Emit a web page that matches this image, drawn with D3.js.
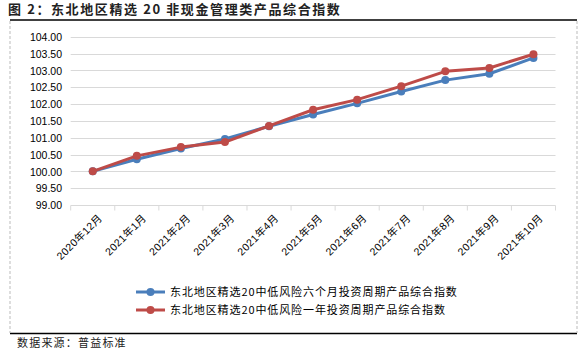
<!DOCTYPE html>
<html>
<head>
  <meta charset="utf8">
  <script src="https://d3js.org/d3.v7.min.js"></script>
  <style>
    body { margin: 0; background: #fff; }
    text { font-family: "Noto Sans CJK SC", "Liberation Sans", sans-serif; fill: #000; }
    .title { font-size: 13px; font-weight: bold; fill: #222; letter-spacing: 1.6px; }
    .axis text { font-size: 10.5px; font-family: "Liberation Sans", "Noto Sans CJK SC", sans-serif; }
    .xlab { letter-spacing: 0.4px; }
    .legend text { font-size: 11px; letter-spacing: 0.9px; }
    .source { font-size: 11px; fill: #222; letter-spacing: 1.2px; }
  </style>
</head>
<body>
  <svg id="chart" width="588" height="352"></svg>
  <script>
    var months = ["2020年12月", "2021年1月", "2021年2月", "2021年3月", "2021年4月", "2021年5月",
      "2021年6月", "2021年7月", "2021年8月", "2021年9月", "2021年10月"];
    var sixMonth = [100.00, 100.36, 100.68, 100.96, 101.34, 101.69, 102.02, 102.37, 102.71, 102.90, 103.37];
    var oneYear = [100.00, 100.46, 100.72, 100.87, 101.35, 101.83, 102.13, 102.53, 102.97, 103.07, 103.48];
    var seriesNames = ["东北地区精选20中低风险六个月投资周期产品综合指数", "东北地区精选20中低风险一年投资周期产品综合指数"];
    var seriesColors = ["#4A7EBB", "#BE4B48"];
    var yTicks = [99, 99.5, 100, 100.5, 101, 101.5, 102, 102.5, 103, 103.5, 104];

    var svg = d3.select('#chart');
    var series = [sixMonth, oneYear];

    // frame
    svg.append('line').attr('x1', 10).attr('x2', 577).attr('y1', 20).attr('y2', 20)
      .attr('stroke', '#000').attr('stroke-width', 1.5);
    svg.append('line').attr('x1', 10).attr('x2', 577).attr('y1', 333.5).attr('y2', 333.5)
      .attr('stroke', '#000').attr('stroke-width', 1.5);
    [10, 577].forEach(function (x) {
      svg.append('line').attr('x1', x).attr('x2', x).attr('y1', 21).attr('y2', 333)
        .attr('stroke', '#bbb').attr('stroke-dasharray', '3,2');
    });

    svg.append('text').attr('class', 'title').attr('x', 8).attr('y', 14)
      .text('图 2：东北地区精选 20 非现金管理类产品综合指数');
    svg.append('text').attr('class', 'source').attr('x', 17).attr('y', 347)
      .text('数据来源：普益标准');

    var x = d3.scaleBand().domain(months).range([70.7, 555.5]);
    var y = d3.scaleLinear().domain([99, 104]).range([205, 36.7]);

    // gridlines
    svg.append('g').selectAll('line').data(yTicks.slice(1)).enter().append('line')
      .attr('x1', x.range()[0]).attr('x2', x.range()[1])
      .attr('y1', function (d) { return Math.round(y(d)) + 0.5; })
      .attr('y2', function (d) { return Math.round(y(d)) + 0.5; })
      .attr('stroke', '#d9d9d9').attr('stroke-width', 1);

    var yAxis = svg.append('g').attr('class', 'axis')
      .attr('transform', 'translate(' + 62 + ',0)')
      .call(d3.axisLeft(y).tickValues(yTicks).tickFormat(d3.format('.2f')).tickSize(0).tickPadding(0));
    yAxis.select('.domain').remove();
    yAxis.selectAll('text').attr('dy', '0.36em');

    var xAxis = svg.append('g').attr('class', 'axis')
      .attr('transform', 'translate(0,' + (Math.round(y(99)) + 0.5) + ')');
    xAxis.append('line').attr('x1', x.range()[0]).attr('x2', x.range()[1])
      .attr('stroke', '#d9d9d9');
    xAxis.selectAll('.tick').data(months.concat(['end'])).enter().append('line')
      .attr('x1', function (d, i) { return x.range()[0] + i * x.bandwidth(); })
      .attr('x2', function (d, i) { return x.range()[0] + i * x.bandwidth(); })
      .attr('y1', 0).attr('y2', 5).attr('stroke', '#d9d9d9');
    xAxis.selectAll('.lbl').data(months).enter().append('text')
      .attr('class', 'xlab')
      .attr('text-anchor', 'end')
      .attr('transform', function (d) {
        return 'translate(' + (x(d) + x.bandwidth() / 2 + 5) + ',8) rotate(-45)';
      })
      .attr('dy', '0.7em')
      .text(function (d) { return d; });

    var line = d3.line()
      .x(function (d, i) { return x(months[i]) + x.bandwidth() / 2; })
      .y(function (d) { return y(d); });

    series.forEach(function (s, k) {
      svg.append('path').datum(s)
        .attr('fill', 'none').attr('stroke', seriesColors[k]).attr('stroke-width', 3)
        .attr('stroke-linejoin', 'round').attr('d', line);
      svg.append('g').selectAll('circle').data(s).enter().append('circle')
        .attr('cx', function (d, i) { return x(months[i]) + x.bandwidth() / 2; })
        .attr('cy', function (d) { return y(d); })
        .attr('r', 4).attr('fill', seriesColors[k]);
    });

    var legend = svg.append('g').attr('class', 'legend');
    seriesNames.forEach(function (name, k) {
      var g = legend.append('g').attr('transform', 'translate(136,' + (292 + k * 18) + ')');
      g.append('line').attr('x1', 0).attr('x2', 29).attr('stroke', seriesColors[k]).attr('stroke-width', 3);
      g.append('circle').attr('cx', 14.5).attr('r', 4).attr('fill', seriesColors[k]);
      g.append('text').attr('x', 34).attr('dy', '0.36em').text(name);
    });
  </script>
</body>
</html>
